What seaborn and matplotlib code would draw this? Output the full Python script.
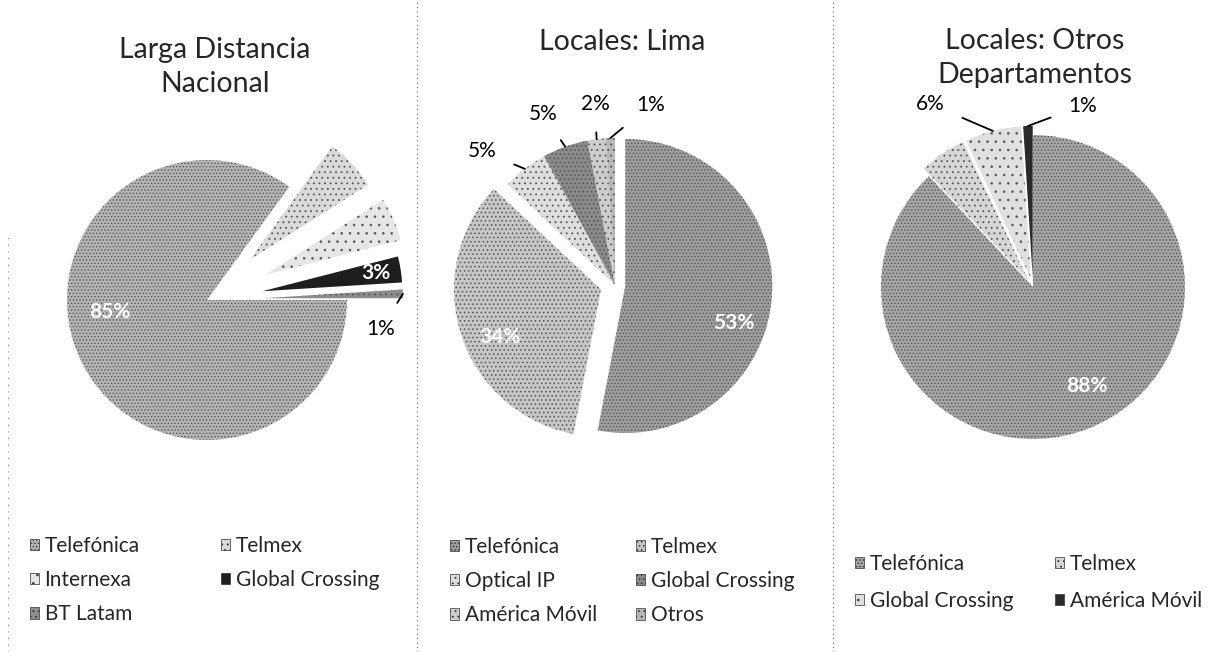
import numpy as np
import matplotlib
matplotlib.use('Agg')
import matplotlib.pyplot as plt
import seaborn as sns
from matplotlib.lines import Line2D
from matplotlib.patches import Patch

sns.set_theme(style='white')
plt.rcParams['font.family'] = ['Lato', 'DejaVu Sans']
plt.rcParams['hatch.linewidth'] = 0.6

# --- data ---
ld_labels = ['Telefónica', 'Telmex', 'Internexa', 'Global Crossing', 'BT Latam']
ld_values = [85, 6, 5, 3, 1]

lima_labels = ['Telefónica', 'Telmex', 'Optical IP', 'Global Crossing', 'América Móvil', 'Otros']
lima_values = [53, 34, 5, 5, 2, 1]

dep_labels = ['Telefónica', 'Telmex', 'Global Crossing', 'América Móvil']
dep_values = [88, 5, 6, 1]

titles = ['Larga Distancia\nNacional', 'Locales: Lima', 'Locales: Otros\nDepartamentos']

W, H = 1231, 652

# --- styling per panel (pixels of the 1231x652 canvas) ---
panels = [
    dict(labels=ld_labels, values=ld_values, title=titles[0], title_xy=(215, 67),
         center=(207, 300), radius=140, start=0,
         explode=[0, 0.42, 0.45, 0.40, 0.40],
         colors=['#b4b4b4', '#dadada', '#e6e6e6', '#1e1e1e', '#8c8c8c'],
         hatches=['.....', '...', '..', '', '...'],
         inside={0: (0.70, -20), 3: (0.82, 0)},
         outside={4: (0.87, -16.5)},
         leg_xy=[(30, 536), (221, 536)], leg_gap=0.68),
    dict(labels=lima_labels, values=lima_values, title=titles[1], title_xy=(622, 42),
         center=(615, 285), radius=147, start=90,
         explode=[0.07, 0.10, 0.0, 0.0, 0.0, 0.0],
         colors=['#9e9e9e', '#c6c6c6', '#dedede', '#8a8a8a', '#cdcdcd', '#b8b8b8'],
         hatches=['.....', '....', '...', '....', '...', '...'],
         inside={0: (0.78, -13.5), 1: (0.76, 7)},
         outside={2: (1.28, 7), 3: (1.26, 3), 4: (1.24, -1), 5: (1.25, -13)},
         leg_xy=[(450, 537), (636, 537)], leg_gap=0.68),
    dict(labels=dep_labels, values=dep_values, title=titles[2], title_xy=(1035, 58),
         center=(1033, 287), radius=152, start=90,
         explode=[0.0, 0.06, 0.06, 0.06],
         colors=['#a6a6a6', '#d6d6d6', '#e0e0e0', '#2a2a2a'],
         hatches=['.....', '...', '..', ''],
         inside={0: (0.74, 7)},
         outside={2: (1.32, 15.5), 3: (1.18, -18)},
         leg_xy=[(855, 554), (1055, 554)], leg_gap=0.8),
]

fig = plt.figure(figsize=(W / 100, H / 100), dpi=100)
fig.patch.set_facecolor('white')

L = 1.6  # axes half-extent in radius units
for p in panels:
    cx, cy = p['center']
    r = p['radius']
    ax = fig.add_axes([(cx - r * L) / W, (H - cy - r * L) / H, 2 * r * L / W, 2 * r * L / H])
    wedges, _ = ax.pie(p['values'], startangle=p['start'], counterclock=False,
                       explode=p['explode'], colors=p['colors'],
                       wedgeprops=dict(linewidth=0))
    for w, h in zip(wedges, p['hatches']):
        w.set_hatch(h)
        w.set_edgecolor('#555555')
        w.set_linewidth(0)
    ax.set_xlim(-L, L)
    ax.set_ylim(-L, L)
    ax.set_aspect('equal')
    ax.axis('off')

    for i, (dist, nudge) in p['inside'].items():
        w = wedges[i]
        mid = np.deg2rad((w.theta1 + w.theta2) / 2 + nudge)
        x0, y0 = w.center
        ax.text(x0 + dist * np.cos(mid), y0 + dist * np.sin(mid), f"{p['values'][i]}%",
                ha='center', va='center', color='white', fontsize=15, fontweight='bold')

    for i, (dist, nudge) in p['outside'].items():
        w = wedges[i]
        mid = (w.theta1 + w.theta2) / 2
        x0, y0 = w.center
        ex, ey = x0 + np.cos(np.deg2rad(mid)), y0 + np.sin(np.deg2rad(mid))
        a = np.deg2rad(mid + nudge)
        tx, ty = x0 + dist * np.cos(a), y0 + dist * np.sin(a)
        ax.annotate(f"{p['values'][i]}%", xy=(ex, ey), xytext=(tx, ty),
                    ha='center', va='center', fontsize=15, color='black',
                    arrowprops=dict(arrowstyle='-', color='black', lw=1.3,
                                    shrinkA=11, shrinkB=0))

    fig.text(p['title_xy'][0] / W, 1 - p['title_xy'][1] / H, p['title'],
             ha='center', va='center', fontsize=20.5, linespacing=1.4)

    handles = [Patch(facecolor=c, hatch=h, edgecolor='#333333', linewidth=0.5)
               for c, h in zip(p['colors'], p['hatches'])]
    for col in range(2):
        idx = list(range(col, len(handles), 2))
        lx, ly = p['leg_xy'][col]
        fig.legend([handles[k] for k in idx], [p['labels'][k] for k in idx],
                   loc='upper left', bbox_to_anchor=(lx / W, 1 - ly / H),
                   frameon=False, fontsize=15, handlelength=0.45, handleheight=0.45,
                   handletextpad=0.25, labelspacing=p['leg_gap'],
                   borderaxespad=0, borderpad=0)

# dotted panel separators
for xs in (417, 833):
    fig.add_artist(Line2D([xs / W, xs / W], [0, 1], color='#666666', lw=0.8,
                          linestyle=(0, (1, 3)), transform=fig.transFigure))
fig.add_artist(Line2D([8 / W, 8 / W], [0, 1 - 235 / H], color='#888888', lw=0.8,
                      linestyle=(0, (1, 5)), transform=fig.transFigure))

fig.savefig('out.png', dpi=100)
